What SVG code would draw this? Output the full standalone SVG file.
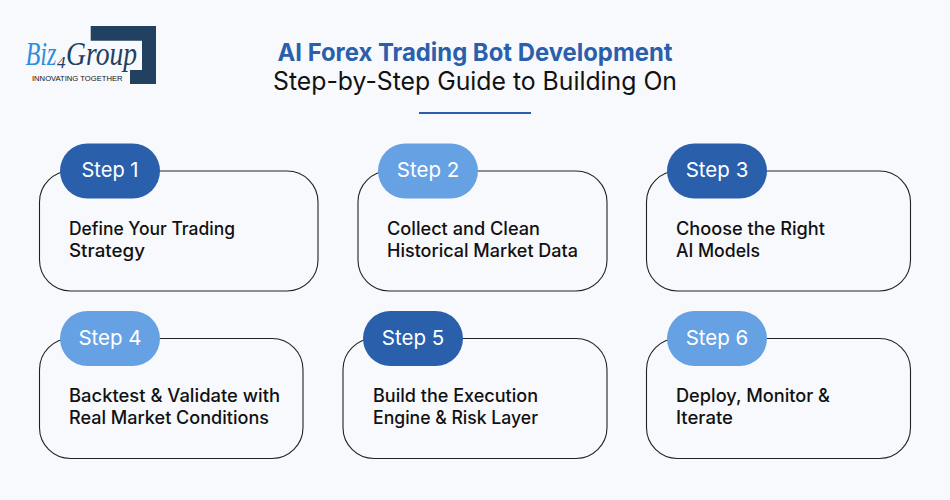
<svg xmlns="http://www.w3.org/2000/svg" width="950" height="500" viewBox="0 0 950 500">
<style>
text{font-family:Inter,"Open Sans","Liberation Sans",sans-serif}
.logo{font-family:"Liberation Serif",serif;font-style:italic;font-size:33px}
.card{fill:none;stroke:#222;stroke-width:1.1}
.dark{fill:#2a5fac}.light{fill:#66a1e4}
.step{fill:#fff;font-size:20.5px;text-anchor:middle}
.body{fill:#111;font-size:18px;font-weight:500}
</style>
<rect width="950" height="500" fill="#f8f9fc"/>
<g id="logo">
<path d="M90.700 26H156V84H130V70H142V40.700H90.700Z" fill="#22405f"/>
<text class="logo" x="25.500" y="65" fill="#2f8fdc" textLength="31" lengthAdjust="spacingAndGlyphs">Biz</text>
<text class="logo" x="66" y="65" fill="#22405f" textLength="71" lengthAdjust="spacingAndGlyphs">Group</text>
<text class="logo" x="57" y="68" style="font-size:17px" fill="#22405f">4</text>
<text x="32" y="80.700" font-size="8" font-weight="500" style="font-family:'Liberation Sans',sans-serif" textLength="90.500" lengthAdjust="spacingAndGlyphs" fill="#111">INNOVATING TOGETHER</text>
</g>
<g id="title">
<text x="475" y="61" font-size="24.500" font-weight="700" fill="#2a5fac" text-anchor="middle" textLength="395" lengthAdjust="spacingAndGlyphs">AI Forex Trading Bot Development</text>
<text x="475" y="90" font-size="25" font-weight="400" fill="#111" text-anchor="middle" textLength="404" lengthAdjust="spacingAndGlyphs">Step-by-Step Guide to Building On</text>
<rect x="419" y="112" width="112" height="2" fill="#2a5fac"/>
</g>
<g id="connectors"></g>
<g id="node1"><rect class="card" x="39.500" y="171" width="278.500" height="120" rx="31"/><rect class="dark" x="60" y="143.500" width="100" height="55" rx="27.500"/><text class="step" x="110" y="177" textLength="57" lengthAdjust="spacingAndGlyphs">Step 1</text><text class="body" x="69" y="235" textLength="166" lengthAdjust="spacingAndGlyphs">Define Your Trading</text><text class="body" x="69" y="257" textLength="76" lengthAdjust="spacingAndGlyphs">Strategy</text></g>
<g id="node2"><rect class="card" x="358" y="171" width="249" height="120" rx="31"/><rect class="light" x="378" y="143.500" width="100" height="55" rx="27.500"/><text class="step" x="428" y="177">Step 2</text><text class="body" x="387" y="235" textLength="153" lengthAdjust="spacingAndGlyphs">Collect and Clean</text><text class="body" x="387" y="257" textLength="191" lengthAdjust="spacingAndGlyphs">Historical Market Data</text></g>
<g id="node3"><rect class="card" x="646.500" y="171" width="264" height="120" rx="31"/><rect class="dark" x="667" y="143.500" width="100" height="55" rx="27.500"/><text class="step" x="717" y="177">Step 3</text><text class="body" x="676" y="235" textLength="149" lengthAdjust="spacingAndGlyphs">Choose the Right</text><text class="body" x="676" y="257" textLength="84" lengthAdjust="spacingAndGlyphs">AI Models</text></g>
<g id="node4"><rect class="card" x="39.500" y="338.500" width="263.500" height="120" rx="31"/><rect class="light" x="60" y="311" width="100" height="55" rx="27.500"/><text class="step" x="110" y="344.500">Step 4</text><text class="body" x="69" y="402" textLength="211" lengthAdjust="spacingAndGlyphs">Backtest &amp; Validate with</text><text class="body" x="69" y="424" textLength="200" lengthAdjust="spacingAndGlyphs">Real Market Conditions</text></g>
<g id="node5"><rect class="card" x="343" y="338.500" width="264" height="120" rx="31"/><rect class="dark" x="363" y="311" width="100" height="55" rx="27.500"/><text class="step" x="413" y="344.500">Step 5</text><text class="body" x="373" y="402" textLength="165" lengthAdjust="spacingAndGlyphs">Build the Execution</text><text class="body" x="373" y="424" textLength="165" lengthAdjust="spacingAndGlyphs">Engine &amp; Risk Layer</text></g>
<g id="node6"><rect class="card" x="646.500" y="338.500" width="264" height="120" rx="31"/><rect class="light" x="667" y="311" width="100" height="55" rx="27.500"/><text class="step" x="717" y="344.500">Step 6</text><text class="body" x="676" y="402" textLength="154" lengthAdjust="spacingAndGlyphs">Deploy, Monitor &amp;</text><text class="body" x="676" y="424" textLength="57" lengthAdjust="spacingAndGlyphs">Iterate</text></g>
</svg>
